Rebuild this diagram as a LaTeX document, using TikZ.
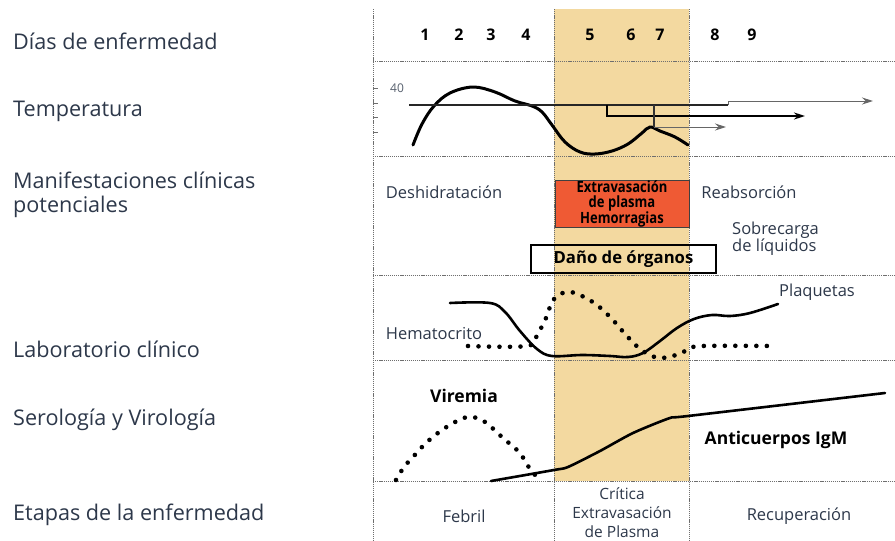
\documentclass[tikz,border=0pt]{standalone}
\usepackage{fontspec}
\usepackage{graphicx}
\setmainfont{Open Sans}
\usetikzlibrary{arrows.meta}
\definecolor{txt}{RGB}{45,56,74}
\definecolor{band}{RGB}{243,217,160}
\definecolor{redbox}{RGB}{239,90,52}
\definecolor{gridc}{RGB}{110,110,110}
\newcommand{\condtext}[1]{\scalebox{0.84}[1]{#1}}
\begin{document}
\begin{tikzpicture}[x=1pt,y=-1pt,
  gridline/.style={gridc, line width=0.7pt, dash pattern=on 1.2pt off 0.9pt},
  rowlabel/.style={anchor=west, text=txt, font=\fontsize{21.6}{24}\selectfont, inner sep=0pt},
  midtext/.style={text=txt, font=\fontsize{16.5}{19}\selectfont, inner sep=0pt},
  boldtext/.style={text=black, font=\bfseries\fontsize{17.5}{19}\selectfont, inner sep=0pt},
  daynum/.style={font=\bfseries\fontsize{16}{18}\selectfont, inner sep=0pt},
  curve/.style={line width=2.6pt, line cap=round, line join=round},
  dots/.style={line width=4.6pt, line cap=round, dash pattern=on 0pt off 10.5pt},
  tickmark/.style={gridc, line width=0.8pt},
  tip/.style={-{Stealth[length=11pt,width=7pt]}},
]
\useasboundingbox (0,0) rectangle (895,541);
\fill[white] (0,0) rectangle (895,541);
\fill[band] (554,9) rectangle (689,481);
% grid
\foreach \y in {61,156,275,360,481} \draw[gridline] (373,\y) -- (895,\y);
\foreach \x in {373,554,689} \draw[gridline] (\x,9) -- (\x,541);

% row labels
\node[rowlabel] (lDias) at (13,41) {Días de enfermedad};
\node[rowlabel] (lTemp) at (13,111) {Temperatura};
\node[rowlabel, align=left, font=\fontsize{21.6}{24.5}\selectfont] (lMani) at (13,195) {Manifestaciones clínicas\\potenciales};
\node[rowlabel] (lLab) at (13,349) {Laboratorio clínico};
\node[rowlabel] (lSer) at (13,420) {Serología y Virología};
\node[rowlabel] (lEtap) at (13,515) {Etapas de la enfermedad};

% days
\foreach \n/\x in {1/425,2/459,3/491,4/526,5/590,6/631,7/660,8/715,9/752}
  \node[daynum] (d\n) at (\x,35) {\n};

% temperature
\foreach \y in {88,103,117,132} \draw[tickmark] (373,\y) -- (378,\y);
\node[text=txt!80, font=\fontsize{12}{14}\selectfont, inner sep=0pt] (t40) at (397,88) {40};
\draw[curve, line width=3pt] plot[smooth, tension=0.6] coordinates {(413,145) (422,124) (434,106) (450,93) (473,87) (495,92) (515,101) (532,106) (542,112) (552,125) (565,142) (580,152) (595,154) (612,151) (628,144) (642,133) (650,127) (660,131) (675,137) (688,145)};
\coordinate (h0) at (409,105);
\coordinate (h1) at (728,105);
\coordinate (h2) at (728,101);
\coordinate (h3) at (873,101);
\coordinate (m0) at (607,105);
\coordinate (m1) at (607,116);
\coordinate (m2) at (805,116);
\coordinate (s0) at (654,105);
\coordinate (s1) at (654,127);
\coordinate (s2) at (726,127);
\draw[line width=2pt, black!85] (h0) -- (h1);
\draw[line width=1pt, black!60, tip] (h1) -- (h2) -- (h3);
\draw[line width=2pt, tip] (m0) -- (m1) -- (m2);
\draw[line width=1.4pt, black!80] (s0) -- (s1);
\draw[line width=1pt, black!60, tip] (s1) -- (s2);

% manifestaciones
\node[midtext] (desh) at (444,192) {Deshidratación};
\node[draw=black!75, fill=redbox, line width=0.8pt, minimum width=134pt, minimum height=46pt, inner sep=0pt, align=center, font=\bfseries\fontsize{15.5}{14.5}\selectfont] (extra) at (622,204) {\condtext{Extravasación}\\\condtext{de plasma}\\\condtext{Hemorragias}};
\node[midtext] (reab) at (749,192) {Reabsorción};
\node[midtext, anchor=west, align=left, font=\fontsize{16.5}{17}\selectfont] (sobre) at (732,239) {Sobrecarga\\de líquidos};
\node[draw, line width=1.2pt, minimum width=185pt, minimum height=28pt, inner sep=0pt, font=\bfseries\fontsize{16.7}{18}\selectfont] (dano) at (623.5,259) {Daño de órganos};

% laboratorio
\node[midtext] (plaq) at (817,292) {Plaquetas};
\node[midtext] (hema) at (434,334) {Hematocrito};
\draw[curve] plot[smooth, tension=0.6] coordinates {(450,303) (490,303) (505,312) (520,331) (537,349) (552,356) (582,355) (610,356) (628,357) (643,353) (660,341) (677,328) (694,319) (712,315) (730,316) (750,313) (778,304)};
\draw[dots] plot[smooth, tension=0.6] coordinates {(468,346) (527,346) (537,335) (546,318) (552,302) (560,294) (570,292) (582,296) (597,305) (612,319) (626,335) (640,349) (652,356) (662,358) (676,355) (690,349) (702,346) (775,346)};

% serologia
\node[boldtext] (vir) at (464,396) {Viremia};
\draw[dots] plot[smooth, tension=0.6] coordinates {(396,480) (404,467) (413,457) (426,443) (442,430) (459,420) (469,417) (480,419) (490,426) (503,438) (517,450) (524,459) (532,472) (541,479)};
\draw[curve] plot[smooth, tension=0.4] coordinates {(491,481) (554,470) (568,467) (600,451) (633,433) (670,418) (688,416) (885,393)};
\node[boldtext] (igm) at (776,440) {Anticuerpos IgM};

% etapas
\node[midtext] (febril) at (464,516) {Febril};
\node[midtext, align=center, font=\fontsize{15.5}{19}\selectfont] (critica) at (622,513) {Crítica\\Extravasación\\de Plasma};
\node[midtext] (recup) at (799,516) {Recuperación};
\end{tikzpicture}
\end{document}
